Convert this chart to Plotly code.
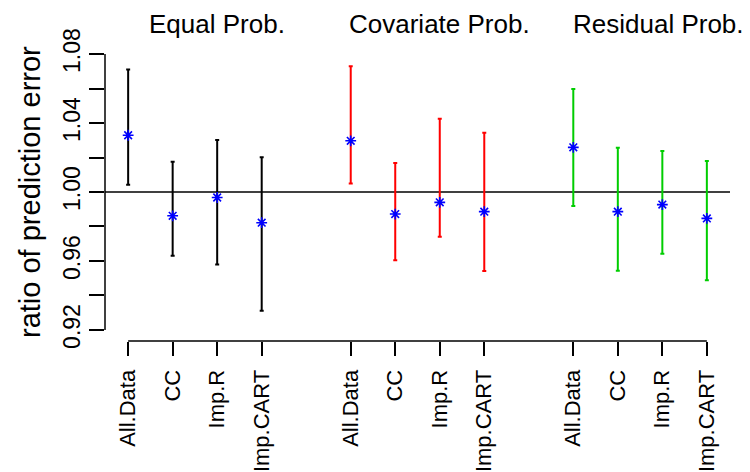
import plotly.graph_objects as go

# ---- data ----
methods = ["All.Data", "CC", "Imp.R", "Imp.CART"]
groups = ["Equal Prob.", "Covariate Prob.", "Residual Prob."]
group_colors = ["#000000", "#FF0000", "#00CD00"]

est = [
    [1.0329, 0.9862, 0.9968, 0.9822],
    [1.0297, 0.9872, 0.9940, 0.9886],
    [1.0259, 0.9886, 0.9927, 0.9847],
]
lower = [
    [1.0042, 0.9631, 0.9580, 0.9312],
    [1.0050, 0.9604, 0.9741, 0.9542],
    [0.9919, 0.9544, 0.9642, 0.9488],
]
upper = [
    [1.0711, 1.0176, 1.0301, 1.0202],
    [1.0729, 1.0168, 1.0425, 1.0344],
    [1.0597, 1.0257, 1.0238, 1.0180],
]
y_tick_vals = [0.92, 0.94, 0.96, 0.98, 1.00, 1.02, 1.04, 1.06, 1.08]
y_tick_text = ["0.92", "", "0.96", "", "1.00", "", "1.04", "", "1.08"]
y_title = "ratio of prediction error"

FONT = "Liberation Sans, Arial, sans-serif"

fig = go.Figure()
all_x, all_labels = [], []
for g, gname in enumerate(groups):
    xs = [g * 5 + i + 1 for i in range(len(methods))]
    all_x += xs
    all_labels += methods
    fig.add_trace(go.Scatter(
        x=xs, y=est[g], mode="markers",
        marker=dict(size=1, color="rgba(0,0,0,0)"),
        error_y=dict(
            type="data", symmetric=False,
            array=[u - e for u, e in zip(upper[g], est[g])],
            arrayminus=[e - l for e, l in zip(est[g], lower[g])],
            color=group_colors[g], thickness=2, width=2,
        ),
        showlegend=False, hoverinfo="skip",
    ))

# reference line at 1
fig.add_shape(type="line", xref="paper", x0=0, x1=1, yref="y", y0=1, y1=1,
              line=dict(color="black", width=1.5), layer="below")

for g in range(len(groups)):
    xs = [g * 5 + i + 1 for i in range(len(methods))]
    fig.add_trace(go.Scatter(
        x=xs, y=est[g], mode="markers",
        marker=dict(symbol="asterisk-open", size=9,
                    line=dict(color="#0000FF", width=1.6), color="#0000FF"),
        showlegend=False,
    ))

# axis lines (R style: only over the tick range)
fig.add_shape(type="line", xref="paper", x0=0, x1=0, yref="y",
              y0=min(y_tick_vals), y1=max(y_tick_vals),
              line=dict(color="black", width=1.5))
fig.add_shape(type="line", xref="x", x0=min(all_x), x1=max(all_x), yref="paper",
              y0=0, y1=0, line=dict(color="black", width=1.5))

# group titles
title_shift = [0, 0, -4]
for g, gname in enumerate(groups):
    fig.add_annotation(x=g * 5 + 3, y=1, xref="x", yref="paper", text=gname,
                       showarrow=False, yanchor="bottom", yshift=2,
                       xshift=title_shift[g],
                       font=dict(family=FONT, size=26, color="black"))

# y title
fig.add_annotation(x=0, y=0.5, xref="paper", yref="paper", text=y_title,
                   showarrow=False, textangle=-90, xanchor="center",
                   yanchor="middle", xshift=-75,
                   font=dict(family=FONT, size=29, color="black"))

fig.update_layout(
    width=742, height=464,
    margin=dict(l=97, r=20, t=35, b=131, autoexpand=False),
    plot_bgcolor="white", paper_bgcolor="white",
    font=dict(family=FONT, color="black"),
    xaxis=dict(range=[0.48, 14.52], tickvals=all_x, ticktext=all_labels,
               tickangle=-90, ticks="outside", ticklen=14, tickwidth=1.5,
               tickcolor="black", showgrid=False, zeroline=False, showline=False,
               automargin=False,
               tickfont=dict(family=FONT, size=22, color="black"),
               ticklabelstandoff=5),
    yaxis=dict(range=[0.9136, 1.0864], tickvals=y_tick_vals, ticktext=y_tick_text,
               tickangle=-90, ticks="outside", ticklen=15, tickwidth=1.5,
               tickcolor="black", showgrid=False, zeroline=False, showline=False,
               automargin=False,
               tickfont=dict(family=FONT, size=23, color="black")),
)

fig.write_html("out.html")
